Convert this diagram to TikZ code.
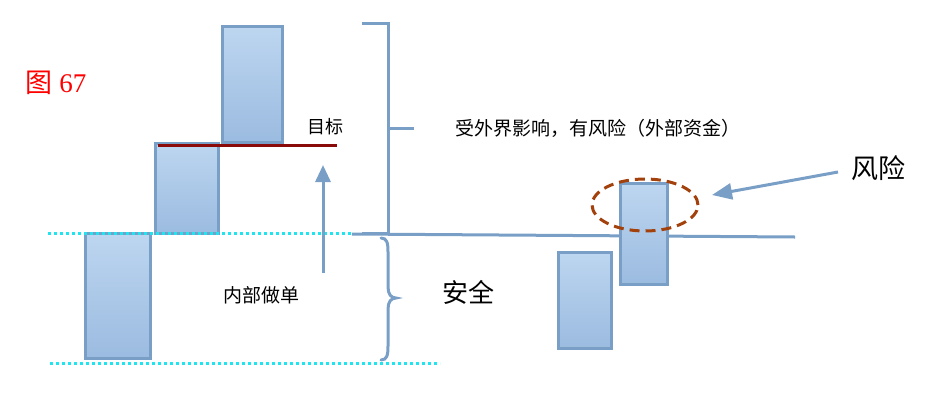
\documentclass[tikz,border=0pt]{standalone}
\usepackage{fontspec}
\setmainfont{Liberation Serif}
\newfontfamily\cjk{Noto Sans CJK SC}
\usepackage{xcolor}
\usepackage{tikz}
\usetikzlibrary{arrows.meta, shapes.geometric}

\definecolor{barline}{HTML}{7A9FC6}
\definecolor{bartop}{HTML}{BDD6F0}
\definecolor{barbot}{HTML}{9BBBE0}
\definecolor{dotcyan}{HTML}{1EE6F0}
\definecolor{target}{HTML}{8A0A0A}
\definecolor{riskring}{HTML}{A3410C}

\begin{document}
\begin{tikzpicture}[x=1pt, y=-1pt,
        bar/.style={draw=barline, line width=3pt, top color=bartop, bottom color=barbot,
            inner sep=0pt, outer sep=0pt},
        guide/.style={draw=dotcyan, line width=3pt, dash pattern=on 3pt off 3pt},
        blueline/.style={draw=barline, line width=3pt},
        label/.style={font=\cjk, text=black, inner sep=0pt}]
        \useasboundingbox (0,0) rectangle (933,407);

        % 左侧三根柱
        \node[bar, minimum width=65pt, minimum height=125pt] (b1) at (117.5,295.5) {};
        \node[bar, minimum width=63pt, minimum height=90pt]  (b2) at (186.5,188) {};
        \node[bar, minimum width=60pt, minimum height=116pt] (b3) at (252,84) {};

        \coordinate (gA) at (48,233);  \coordinate (gB) at (352,233);
        \coordinate (gC) at (50,363);  \coordinate (gD) at (440,363);
        \draw[guide] (gA) -- (gB);
        \draw[guide] (gC) -- (gD);

        % 目标线
        \coordinate (tL) at (158,145); \coordinate (tR) at (337,145);
        \draw[target, line width=3pt] (tL) -- (tR);
        \node[label, font=\cjk\fontsize{18}{18}\selectfont] (tgt) at (325,127) {目标};

        \coordinate (pS) at (323,273); \coordinate (pE) at (323,165);
        \draw[blueline, -{Triangle[width=15pt, length=17pt]}] (pS) -- (pE);
        \node[label, font=\cjk\fontsize{19}{19}\selectfont] (inner) at (261,295) {内部做单};

        % 右侧
        \coordinate (hL) at (352,234); \coordinate (hR) at (795,237);
        \draw[blueline] (hL) -- (hR);
        \node[bar, minimum width=53pt, minimum height=96pt]  (b4) at (584.5,300) {};
        \node[bar, minimum width=47pt, minimum height=101pt] (b5) at (643.5,233.5) {};
        \node[draw=riskring, line width=3pt, dash pattern=on 10pt off 6pt, ellipse,
            minimum width=106pt, minimum height=52pt, inner sep=0pt] (ring) at (645,205) {};

        % 括号
        \draw[blueline] (362,23) -- (388,23) -- (388,233) -- (362,233);
        \draw[blueline] (388,128) -- (414,128);
        \draw[blueline, line cap=round]
            (381,238) .. controls (387,238) and (388,243) .. (388,252) -- (388,287)
            .. controls (388,294) and (391,298) .. (396,298)
            .. controls (391,298) and (388,302) .. (388,309) -- (388,346)
            .. controls (388,355) and (387,360) .. (381,360);

        \node[label, font=\cjk\fontsize{19}{19}\selectfont] (outer) at (598,128) {受外界影响，有风险（外部资金）};
        \node[label, font=\cjk\fontsize{26}{26}\selectfont] (safe) at (468,292) {安全};
        \node[label, font=\cjk\fontsize{27}{27}\selectfont] (risk) at (878,168) {风险};

        \coordinate (rS) at (838,172); \coordinate (rE) at (712,195);
        \draw[blueline, -{Triangle[width=16pt, length=20pt]}] (rS) -- (rE);

        \node[label, text=red, font=\fontsize{27}{27}\selectfont] (fig) at (56,83) {{\cjk 图} 67};
\end{tikzpicture}
\end{document}
